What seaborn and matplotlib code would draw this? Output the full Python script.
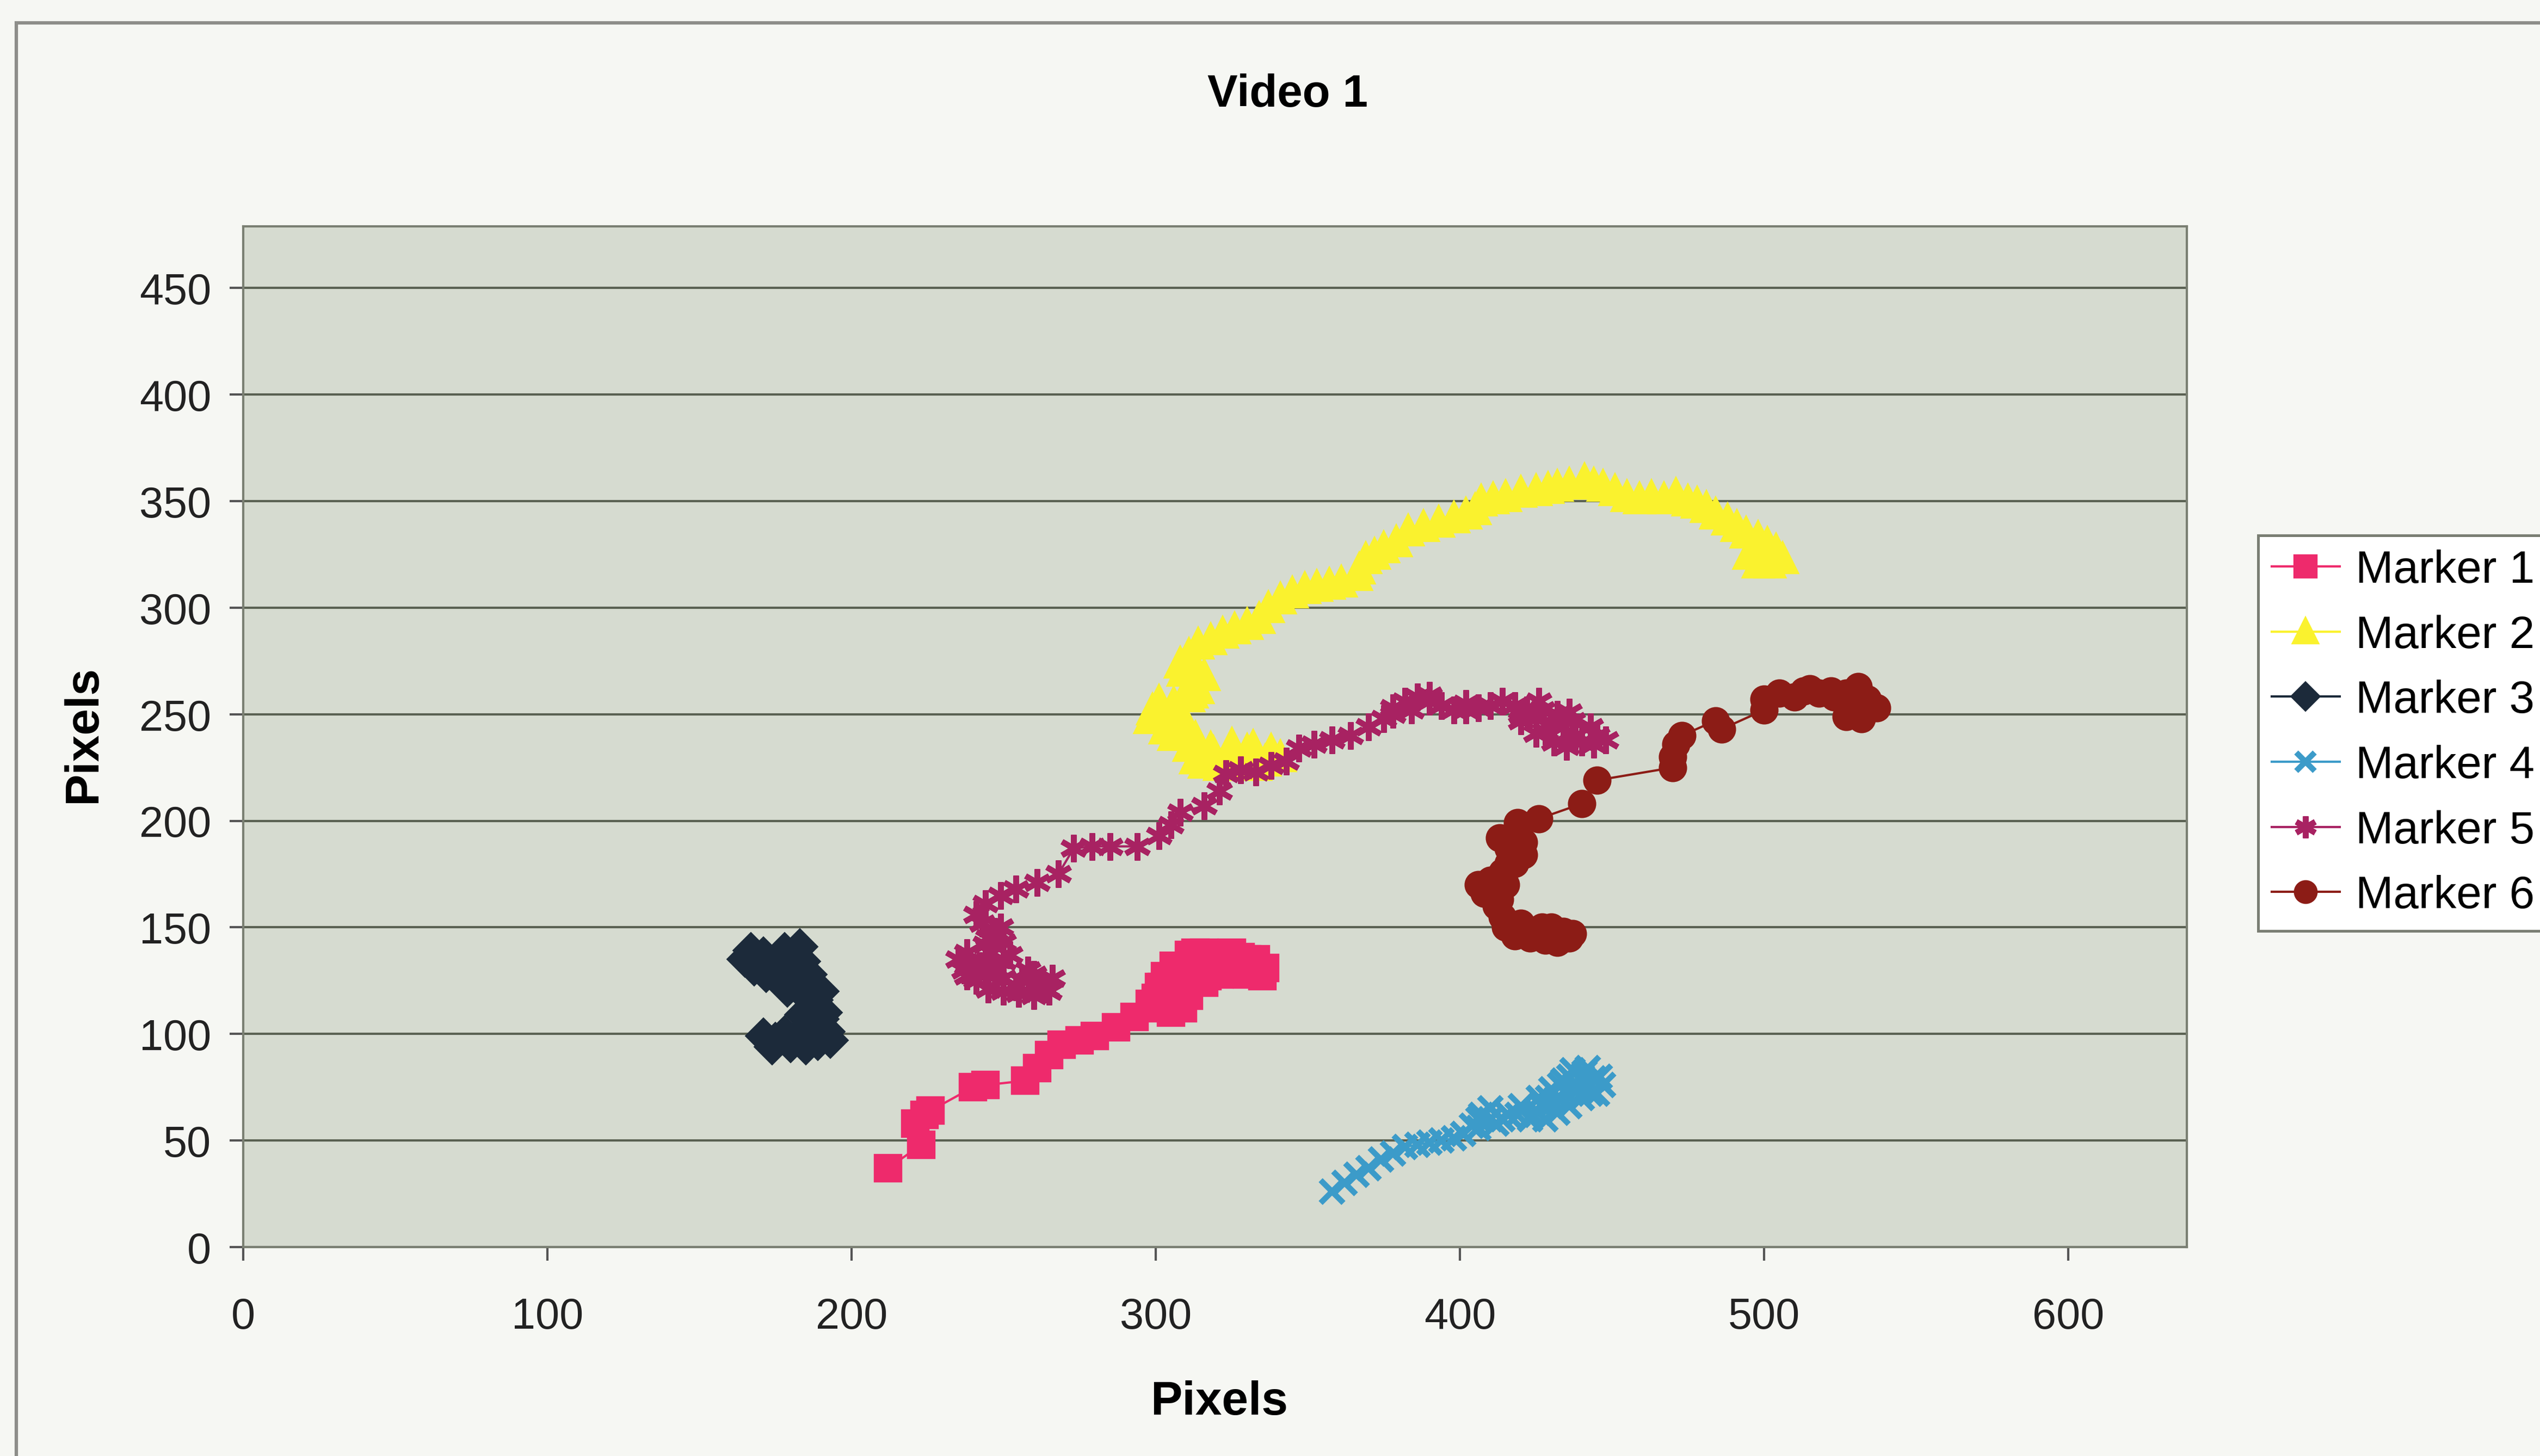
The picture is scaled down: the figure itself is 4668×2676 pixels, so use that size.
import pandas as pd
import seaborn as sns
import matplotlib.pyplot as plt
from matplotlib.patches import Rectangle

# tracked marker positions (x, y in pixels)
marker1 = [(212, 37), (223, 48), (221, 58), (224, 62), (226, 64), (240, 75), (244, 76),
           (257, 78), (261, 84), (265, 90), (269, 95), (275, 97), (280, 99), (287, 103),
           (293, 108), (299, 112), (305, 110), (309, 112), (311, 118), (304, 116), (298, 114),
           (301, 122), (303, 127), (306, 132), (308, 129), (311, 137), (313, 138), (316, 138),
           (320, 137), (325, 138), (328, 136), (332, 133), (333, 135), (336, 131), (334, 130),
           (335, 127), (330, 128), (325, 129), (319, 131), (317, 127), (312, 125), (308, 125),
           (302, 122), (300, 117), (306, 120), (310, 120), (316, 124), (321, 128), (327, 131),
           (313, 130), (318, 133), (323, 134), (330, 135), (315, 133), (322, 131), (329, 130)]
marker2 = [(341, 230), (338, 233), (333, 226), (336, 228), (332, 235), (327, 226), (330, 233),
           (325, 236), (321, 226), (324, 230), (318, 234), (316, 227), (319, 232), (313, 229),
           (311, 235), (313, 239), (309, 244), (306, 240), (305, 246), (303, 243), (298, 248),
           (303, 250), (299, 252), (308, 251), (301, 256), (306, 255), (311, 258), (312, 260),
           (314, 262), (316, 268), (312, 266), (313, 272), (309, 270), (308, 274), (311, 278),
           (314, 283), (318, 285), (322, 288), (326, 290), (330, 292), (334, 295), (337, 300),
           (341, 304), (345, 307), (349, 309), (353, 310), (357, 311), (361, 312), (366, 315),
           (367, 318), (369, 323), (372, 325), (375, 328), (379, 331), (383, 336), (388, 338),
           (393, 340), (398, 342), (402, 344), (405, 346), (407, 350), (411, 351), (415, 352),
           (420, 354), (425, 355), (429, 356), (432, 357), (436, 358), (441, 360), (444, 358),
           (447, 357), (451, 355), (455, 352), (459, 351), (463, 352), (467, 351), (471, 353),
           (475, 350), (478, 349), (481, 347), (484, 344), (488, 341), (491, 338), (494, 335),
           (498, 333), (501, 330), (504, 327), (506, 323), (502, 321), (498, 321), (495, 325)]
marker3 = [(165, 135), (167, 139), (168, 131), (170, 134), (171, 137), (174, 133), (177, 136),
           (178, 139), (176, 131), (180, 130), (181, 135), (183, 141), (184, 134), (186, 128),
           (182, 127), (183, 123), (179, 121), (176, 127), (172, 128), (185, 118), (190, 120),
           (188, 112), (191, 110), (190, 107), (192, 101), (193, 97), (189, 100), (189, 96),
           (186, 99), (185, 94), (180, 95), (178, 100), (174, 94), (175, 97), (171, 99),
           (183, 100), (187, 104), (184, 109), (188, 116)]
marker4 = [(358, 26), (362, 30), (366, 34), (370, 37), (374, 41), (378, 44), (382, 47),
           (386, 48), (390, 49), (394, 50), (398, 51), (401, 53), (404, 57), (406, 56),
           (407, 62), (410, 65), (406, 60), (410, 60), (412, 58), (414, 60), (416, 62),
           (419, 62), (420, 66), (424, 62), (423, 60), (425, 64), (428, 60), (427, 66),
           (432, 63), (431, 68), (429, 70), (426, 70), (430, 74), (433, 76), (435, 72),
           (434, 78), (437, 83), (436, 80), (440, 80), (441, 82), (444, 79), (446, 80),
           (447, 76), (443, 72), (445, 72), (439, 74), (440, 70), (436, 66), (432, 70),
           (438, 76), (442, 84)]
marker5 = [(265, 120), (264, 121), (260, 118), (255, 119), (250, 120), (245, 121), (241, 125),
           (238, 127), (237, 130), (235, 135), (239, 133), (242, 132), (244, 128), (248, 130),
           (250, 126), (254, 122), (256, 125), (260, 128), (262, 124), (266, 126), (258, 130),
           (252, 137), (250, 134), (238, 138), (244, 142), (246, 138), (245, 145), (250, 143),
           (249, 150), (247, 148), (243, 152), (241, 156), (244, 161), (249, 165), (254, 168),
           (261, 171), (268, 175), (273, 187), (279, 188), (285, 188), (294, 188), (301, 193),
           (305, 198), (308, 204), (316, 207), (321, 214), (323, 222), (328, 224), (333, 223),
           (338, 226), (343, 228), (347, 234), (352, 236), (358, 238), (364, 240), (370, 244),
           (375, 248), (378, 250), (384, 252), (378, 253), (382, 256), (386, 258), (390, 259),
           (390, 256), (394, 254), (398, 252), (402, 255), (402, 252), (406, 253), (410, 254),
           (414, 256), (418, 254), (420, 250), (422, 252), (426, 256), (425, 248), (430, 246),
           (428, 242), (431, 237), (435, 235), (438, 240), (440, 237), (444, 236), (445, 240),
           (448, 238), (443, 244), (437, 247), (436, 251), (432, 250), (427, 252), (420, 247),
           (425, 241), (434, 244)]
marker6 = [(437, 147), (433, 144), (432, 143), (428, 144), (424, 146), (423, 145), (418, 146),
           (419, 150), (425, 148), (430, 150), (436, 145), (415, 150), (414, 155), (420, 152),
           (427, 150), (434, 148), (412, 160), (413, 163), (408, 166), (409, 168), (406, 170),
           (410, 172), (415, 170), (414, 176), (418, 180), (416, 180), (419, 185), (421, 184),
           (421, 190), (416, 187), (413, 192), (419, 199), (426, 201), (440, 208), (445, 219),
           (470, 225), (470, 230), (471, 236), (473, 240), (484, 247), (486, 243), (500, 252),
           (500, 257), (505, 260), (510, 258), (513, 261), (515, 262), (518, 260), (522, 261),
           (523, 258), (527, 260), (529, 258), (531, 263), (534, 257), (534, 254), (537, 253),
           (532, 248), (531, 251), (527, 249)]

names = ["Marker 1", "Marker 2", "Marker 3", "Marker 4", "Marker 5", "Marker 6"]
tracks = [marker1, marker2, marker3, marker4, marker5, marker6]
colors = ["#EE2A6C", "#FAF22E", "#1C2A3A", "#3C9BC9", "#A82262", "#8C1C16"]
symbols = ["s", "^", "D", "x", (6, 2, 0), "o"]
sizes = [10, 11, 9, 10, 12, 10]

rows = []
for name, pts in zip(names, tracks):
    for x, y in pts:
        rows.append({"marker": name, "x": x, "y": y})
df = pd.DataFrame(rows)

plt.rcParams['font.family'] = ['Liberation Sans', 'DejaVu Sans']

fig = plt.figure(figsize=(15.56, 8.923), dpi=300, facecolor="#F6F7F3")
ax = fig.add_axes([0.0957, 0.1435, 0.7653, 0.7008])
ax.set_facecolor("#D6DBD0")

sns.lineplot(df, x="x", y="y", hue="marker", palette=colors, sort=False,
             estimator=None, legend=False, lw=1.0, ax=ax)

for line, c, m, s in zip(ax.lines, colors, symbols, sizes):
    line.set_marker(m)
    line.set_markersize(s)
    line.set_markerfacecolor(c)
    line.set_markeredgecolor(c)
    line.set_markeredgewidth(2.5)
    line.set_color(c)

ax.set_xlim(0, 639)
ax.set_ylim(0, 479)
ax.set_xticks(range(0, 601, 100))
ax.set_yticks(range(0, 451, 50))
ax.grid(axis="y", color="#5A6152", lw=1.0)
ax.set_axisbelow(True)
for sp in ax.spines.values():
    sp.set_color("#7A7F72")
    sp.set_linewidth(1.0)
ax.tick_params(direction="out", length=6, width=1, color="#555", labelsize=19,
               labelcolor="#222")
ax.tick_params(axis="y", pad=8)
ax.tick_params(axis="x", pad=16)
ax.set_xlabel("")
ax.set_ylabel("")

fig.text(0.507, 0.935, "Video 1", ha="center", va="center", fontsize=20, fontweight="bold")
fig.text(0.48, 0.037, "Pixels", ha="center", va="center", fontsize=21, fontweight="bold")
fig.text(0.033, 0.496, "Pixels", ha="center", va="center", rotation=90, fontsize=21,
         fontweight="bold")

leg = ax.legend(ax.lines[:6], names, loc="upper left", bbox_to_anchor=(0.889, 0.632),
                bbox_transform=fig.transFigure, fontsize=20, frameon=True, fancybox=False,
                edgecolor="#7A7E73", facecolor="white", framealpha=1, handlelength=1.5,
                handletextpad=0.35, labelspacing=0.5, borderpad=0.3, borderaxespad=0,
                markerscale=0.8)
leg.get_frame().set_linewidth(1.2)

fig.patches.append(Rectangle((0.0064, -0.05), 1.2, 1.034, transform=fig.transFigure,
                             fill=False, edgecolor="#8E8E8A", lw=1.5))

fig.savefig("out.png", dpi=300, facecolor=fig.get_facecolor())
